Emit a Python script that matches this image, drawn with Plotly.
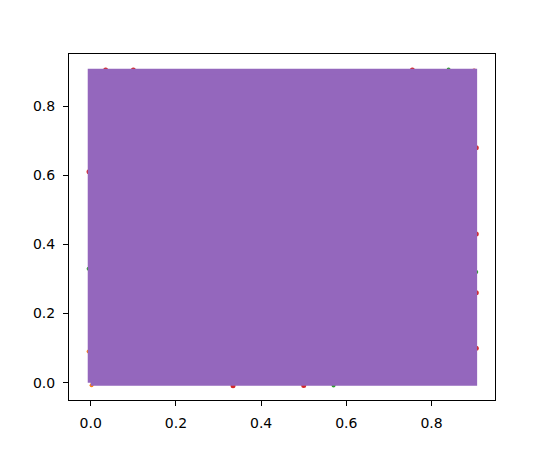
import plotly.graph_objects as go

# Dense uniform point cloud: extent of the cloud in data units
cloud_x_extent = [0.0, 0.9]
cloud_y_extent = [0.0, 0.9]

# Points of the underlying series that peek out at the cloud's border
red_x = [0.334, 0.500, 0.035, 0.100, 0.755, 0.900, 0.905, 0.905, 0.905, 0.905, -0.004]
red_y = [-0.009, -0.008, 0.905, 0.905, 0.905, 0.902, 0.430, 0.100, 0.680, 0.260, 0.610]
green_x = [0.570, 0.840, -0.005, 0.905]
green_y = [-0.008, 0.906, 0.330, 0.320]
orange_x = [-0.005, 0.002]
orange_y = [0.090, -0.007]

ticks = [0.0, 0.2, 0.4, 0.6, 0.8]

PURPLE = "#9467bd"
RED = "#d62728"
GREEN = "#2ca02c"
ORANGE = "#ff7f0e"

fig = go.Figure()
fig.add_trace(go.Scatter(x=orange_x, y=orange_y, mode="markers",
                         marker=dict(color=ORANGE, size=4), showlegend=False))
fig.add_trace(go.Scatter(x=green_x, y=green_y, mode="markers",
                         marker=dict(color=GREEN, size=4), showlegend=False))
fig.add_trace(go.Scatter(x=red_x, y=red_y, mode="markers",
                         marker=dict(color=RED, size=5), showlegend=False))

x0, x1 = cloud_x_extent
y0, y1 = cloud_y_extent
fig.add_trace(go.Scatter(
    x=[x0, x1, x1, x0, x0], y=[y0, y0, y1, y1, y0],
    mode="lines", fill="toself", fillcolor=PURPLE,
    line=dict(color=PURPLE, width=6), showlegend=False, hoverinfo="skip"))

axis_common = dict(
    showline=True, linecolor="black", linewidth=1, mirror=True,
    ticks="outside", ticklen=5, tickwidth=1, tickcolor="black",
    showgrid=False, zeroline=False, tickvals=ticks, tickformat=".1f",
    ticklabelstandoff=5,
    tickfont=dict(family="DejaVu Sans", size=14, color="black"),
)
fig.update_layout(
    width=550, height=450,
    margin=dict(l=69, r=55, t=54, b=50),
    paper_bgcolor="white", plot_bgcolor="white",
    xaxis=dict(range=[-0.051, 0.949], automargin=False, **axis_common),
    yaxis=dict(range=[-0.050, 0.951], automargin=False, **axis_common),
)
fig.write_html("out.html", config={"displayModeBar": False},
               post_script="document.body.style.margin='0';")
